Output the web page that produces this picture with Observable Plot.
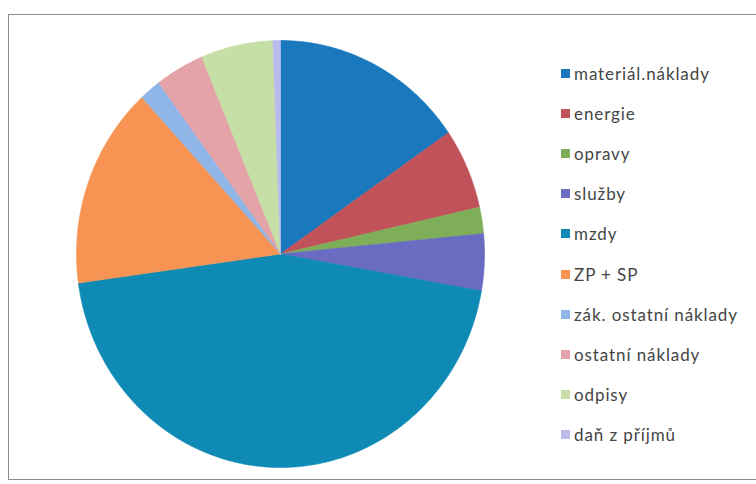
<!DOCTYPE html>
<html>
<head>
<meta charset="utf-8">
<script src="https://cdn.jsdelivr.net/npm/d3@7"></script>
<script src="https://cdn.jsdelivr.net/npm/@observablehq/plot@0.6"></script>
<style>
  html, body { margin: 0; padding: 0; background: #fff; }
  #wrap { position: relative; width: 756px; height: 484px; overflow: hidden; }
  #frame { position: absolute; left: 8px; top: 14px; width: 800px; height: 466px; border: 1.5px solid #8c8c8c; box-sizing: border-box; }
  #chart { position: absolute; left: 0; top: 0; }
  #legend { position: absolute; left: 561px; top: 53px; font-family: Lato, "Open Sans", sans-serif; font-size: 17px; letter-spacing: 0.9px; color: #454545; }
  #legend .row { height: 40.2px; display: flex; align-items: center; white-space: nowrap; }
  #legend .sw { width: 9px; height: 9px; margin-right: 4px; flex: none; }
</style>
</head>
<body>
<div id="wrap">
  <div id="frame"></div>
  <div id="chart"></div>
  <div id="legend"></div>
</div>
<script>
const categories = ["materiál.náklady", "energie", "opravy", "služby", "mzdy", "ZP + SP", "zák. ostatní náklady", "ostatní náklady", "odpisy", "daň z příjmů"];
const shares = [15.4, 6.1, 2.0, 4.3, 45.1, 15.3, 1.7, 3.9, 5.7, 0.6];
const colors = ["#1a78bd", "#c2525a", "#7fae58", "#6a6cc2", "#0e8ab5", "#f79454", "#8fb6e6", "#e3a3a8", "#c5dfa6", "#b8bbec"];

const data = categories.map((c, i) => ({category: c, value: shares[i]}));
const arcs = d3.pie().sort(null).value(d => d.value).startAngle(0).endAngle(2 * Math.PI)(data);

// Build each slice outline (unit circle, clockwise from north) from the pie angles
const pts = [];
arcs.forEach((a, i) => {
  const cat = a.data.category;
  pts.push({category: cat, order: i, x: 0, y: 0});
  const n = Math.max(2, Math.ceil((a.endAngle - a.startAngle) / (Math.PI / 360)));
  for (let k = 0; k <= n; k++) {
    const t = a.startAngle + (a.endAngle - a.startAngle) * k / n;
    pts.push({category: cat, order: i, x: Math.sin(t), y: Math.cos(t)});
  }
  pts.push({category: cat, order: i, x: 0, y: 0});
});

const chart = Plot.plot({
  width: 756,
  height: 484,
  margin: 0,
  x: {domain: [-1, 1], range: [76, 484], axis: null},
  y: {domain: [-1, 1], range: [467, 40], axis: null},
  color: {type: "ordinal", domain: categories, range: colors},
  marks: [
    Plot.line(pts, {x: "x", y: "y", z: "category", fill: "category", stroke: "category", strokeWidth: 0.6, curve: "linear"})
  ]
});
document.getElementById("chart").appendChild(chart);

const colorScale = chart.scale("color");
const legend = document.getElementById("legend");
categories.forEach(c => {
  const row = document.createElement("div");
  row.className = "row";
  const sw = document.createElement("span");
  sw.className = "sw";
  sw.style.background = colorScale.apply(c);
  const lab = document.createElement("span");
  lab.textContent = c;
  row.appendChild(sw);
  row.appendChild(lab);
  legend.appendChild(row);
});
</script>
</body>
</html>
